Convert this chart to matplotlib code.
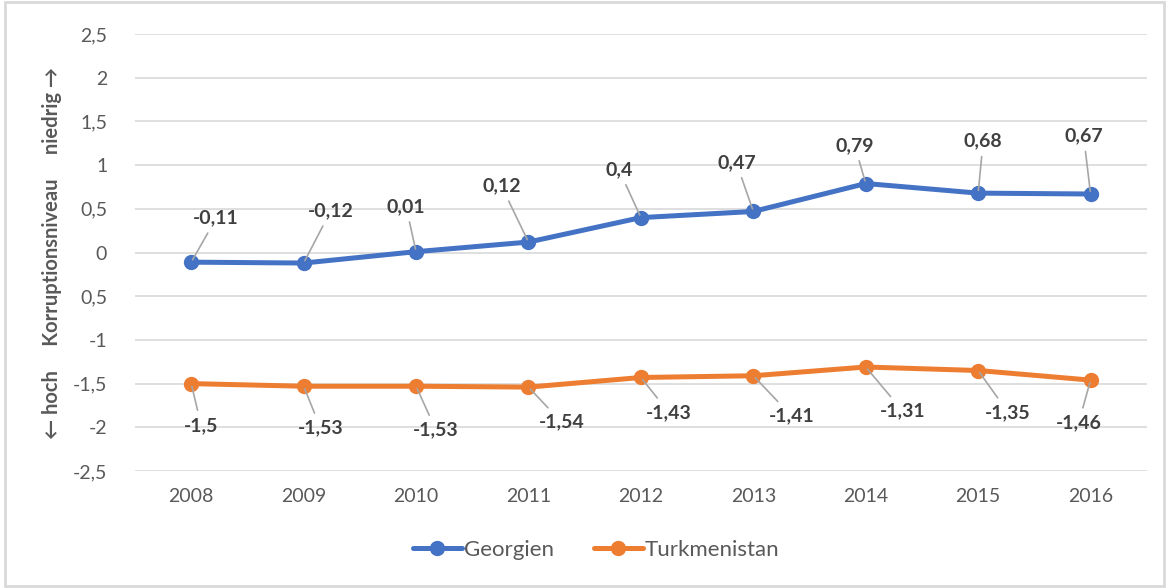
import matplotlib
matplotlib.use('Agg')
import matplotlib.pyplot as plt
from matplotlib.patches import Rectangle

plt.rcParams['font.family'] = ['Lato', 'DejaVu Sans']

years = [2008, 2009, 2010, 2011, 2012, 2013, 2014, 2015, 2016]
georgien = [-0.11, -0.12, 0.01, 0.12, 0.4, 0.47, 0.79, 0.68, 0.67]
turkmenistan = [-1.5, -1.53, -1.53, -1.54, -1.43, -1.41, -1.31, -1.35, -1.46]
ytick_vals = [2.5, 2, 1.5, 1, 0.5, 0, -0.5, -1, -1.5, -2, -2.5]
ytick_labels = ['2,5', '2', '1,5', '1', '0,5', '0', '0,5', '-1', '-1,5', '-2', '-2,5']

# label offsets in pixels (dx, dy) relative to the point
geo_off = [(25, 44), (27, 52), (-10, 45), (-27, 56), (-22, 48), (-17, 49), (-11, 38), (5, 52), (-7, 58)]
tur_off = [(10, -42), (17, -42), (20, -44), (33, -35), (28, -35), (38, -40), (37, -44), (30, -42), (-12, -43)]

blue = '#4472C4'
orange = '#ED7D31'

fig = plt.figure(figsize=(11.69, 5.88), dpi=100)
ax = fig.add_axes([0.1155, 0.199, 0.981 - 0.1155, 0.942 - 0.199])

x = list(range(len(years)))
ax.plot(x, georgien, color=blue, lw=3.6, marker='o', ms=10, label='Georgien', solid_capstyle='round')
ax.plot(x, turkmenistan, color=orange, lw=3.6, marker='o', ms=10, label='Turkmenistan', solid_capstyle='round')

def fmt(v):
    return ('%g' % v).replace('.', ',')

for i in x:
    for vals, offs in ((georgien, geo_off), (turkmenistan, tur_off)):
        dx, dy = offs[i]
        ax.annotate(fmt(vals[i]), (i, vals[i]), xytext=(dx, dy), textcoords='offset pixels',
                    ha='center', va='center', fontsize=14, fontweight='bold', color='#404040',
                    arrowprops=dict(arrowstyle='-', color='#A6A6A6', lw=1.2, shrinkA=3, shrinkB=2))

ax.set_xlim(-0.5, len(years) - 0.5)
ax.set_ylim(-2.5, 2.5)
ax.set_xticks(x)
ax.set_xticklabels([str(y) for y in years])
ax.set_yticks(ytick_vals)
ax.set_yticklabels(ytick_labels)
ax.tick_params(length=0, labelsize=14, labelcolor='#595959')
ax.tick_params(axis='x', pad=12)
ax.tick_params(axis='y', pad=20)
ax.grid(axis='y', color='#D9D9D9', lw=1.2)
ax.set_axisbelow(True)
for s in ax.spines.values():
    s.set_visible(False)

ax.set_ylabel('\u2190 hoch     Korruptionsniveau     niedrig \u2192', fontsize=14.5,
              fontweight='bold', color='#595959', labelpad=8)

ax.legend(loc='center', bbox_to_anchor=(0.51, 1 - 550 / 588), bbox_transform=fig.transFigure,
          ncol=2, frameon=False, fontsize=16, labelcolor='#595959', handlelength=2.2,
          columnspacing=1.8, handletextpad=0.1)

fig.patches.append(Rectangle((0.004, 0.004), 0.992, 0.992, transform=fig.transFigure,
                             fill=False, edgecolor='#D9D9D9', lw=2))

fig.savefig('out.png', dpi=100, facecolor='white')
